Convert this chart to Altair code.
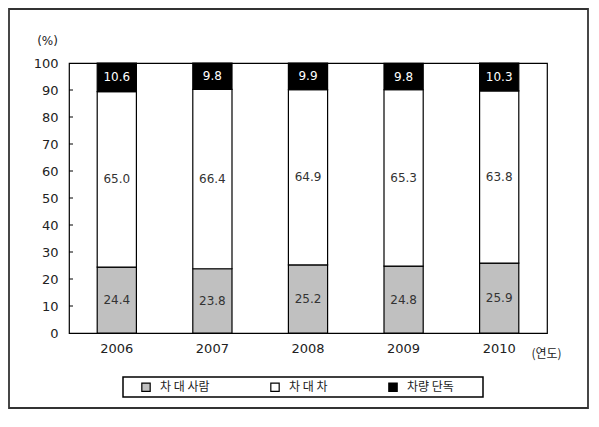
import altair as alt
import pandas as pd

years = ["2006", "2007", "2008", "2009", "2010"]
categories = ["차 대 사람", "차 대 차", "차량 단독"]
car_vs_person = [24.4, 23.8, 25.2, 24.8, 25.9]
car_vs_car = [65.0, 66.4, 64.9, 65.3, 63.8]
car_alone = [10.6, 9.8, 9.9, 9.8, 10.3]
y_ticks = [10, 20, 30, 40, 50, 60, 70, 80, 90]
y_tick_labels = [0, 10, 20, 30, 40, 50, 60, 70, 80, 90, 100]
colors = ["#c0c0c0", "#ffffff", "#000000"]

rows = []
for i, y in enumerate(years):
    for k, (cat, series) in enumerate(zip(categories, [car_vs_person, car_vs_car, car_alone])):
        rows.append({"year": y, "cat": cat, "ord": k, "value": series[i]})
df = pd.DataFrame(rows)
ticks_df = pd.DataFrame({"t": y_ticks})
one = pd.DataFrame({"a": [0]})

W, H = 478, 270
NUM_FONT = "DejaVu Sans"
KR_FONT = "Noto Sans CJK KR"

x_axis = alt.Axis(
    title="(연도)", titleFont=KR_FONT, titleFontSize=12, titleFontWeight="normal",
    titleColor="#222", titleX=477, titleY=20, titleAlign="center", titleBaseline="middle",
    labelAngle=0, labelFont=NUM_FONT, labelFontSize=13, labelColor="#222",
    labelPadding=9, ticks=False, domain=False,
)
y_axis = alt.Axis(
    values=y_tick_labels, tickCount=11, title="(%)", titleAngle=0, titleX=-22, titleY=-23,
    titleAlign="center", titleBaseline="middle", titleFont=NUM_FONT,
    titleFontSize=12, titleFontWeight="normal", titleColor="#222",
    labelFont=NUM_FONT, labelFontSize=13, labelColor="#222", labelPadding=11,
    labelOverlap=False, ticks=False, domain=False, grid=False,
)
x_scale = alt.Scale(paddingInner=0.59, paddingOuter=0.295)
y_scale = alt.Scale(domain=[0, 100], nice=False)

base = (
    alt.Chart(df)
    .transform_stack(stack="value", as_=["v0", "v1"], groupby=["year"], sort=[alt.SortField("ord")])
    .transform_calculate(mid="(datum.v0 + datum.v1) / 2")
)

bars = base.mark_bar(stroke="black", strokeWidth=1.2).encode(
    x=alt.X("year:N", sort=years, scale=x_scale, axis=x_axis),
    y=alt.Y("v0:Q", scale=y_scale, axis=y_axis),
    y2="v1:Q",
    color=alt.Color(
        "cat:N",
        scale=alt.Scale(domain=categories, range=colors),
        legend=alt.Legend(
            title=None, orient="none", direction="horizontal", legendX=71, legendY=318,
            padding=0, columnPadding=58, symbolType="square", symbolSize=70,
            symbolStrokeColor="black", symbolStrokeWidth=1.2, labelFont=KR_FONT,
            labelFontSize=12, labelColor="#222", labelOffset=8,
        ),
    ),
    order=alt.Order("ord:Q"),
)

texts = base.mark_text(font=NUM_FONT, fontSize=12).encode(
    x=alt.X("year:N", sort=years, scale=x_scale, axis=x_axis),
    y=alt.Y("mid:Q", scale=y_scale, axis=y_axis),
    text=alt.Text("value:Q", format=".1f"),
    color=alt.condition("datum.cat === '차량 단독'", alt.value("white"), alt.value("#333")),
)

yticks = alt.Chart(ticks_df).mark_rule(color="black", strokeWidth=1).encode(
    x=alt.value(0), x2=alt.value(4), y=alt.Y("t:Q", scale=y_scale, axis=y_axis)
)

legend_box = alt.Chart(one).mark_rect(fill=None, stroke="black", strokeWidth=1.5).encode(
    x=alt.value(54), x2=alt.value(414), y=alt.value(314), y2=alt.value(334)
)

outer_box = alt.Chart(one).mark_rect(fill=None, stroke="#333", strokeWidth=1.8).encode(
    x=alt.value(-60), x2=alt.value(519), y=alt.value(-54), y2=alt.value(345)
)

chart = (
    alt.layer(outer_box, bars, texts, yticks, legend_box)
    .properties(
        width=W, height=H,
        autosize=alt.AutoSizeParams(type="none"),
        padding={"left": 61, "top": 55, "right": 44, "bottom": 80},
    )
    .configure(background="white")
    .configure_view(stroke="black", strokeWidth=1.2)
)

chart.save("out.html", embed_options={"renderer": "svg", "actions": False})
